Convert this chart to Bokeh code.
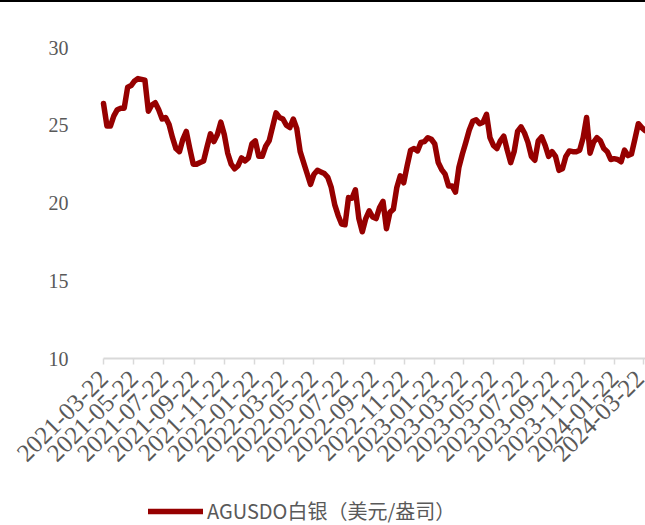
import pandas as pd
from math import pi
from bokeh.plotting import figure
from bokeh.models import FixedTicker, DatetimeTickFormatter, Range1d, Legend, LegendItem
from bokeh.embed import file_html
from bokeh.resources import INLINE

start_date = "2021-03-22"

silver = [
    26.4, 24.95, 24.95, 25.6, 26.0, 26.1, 26.1, 27.45, 27.55, 27.85,
    28.0, 27.95, 27.9, 25.9, 26.3, 26.45, 26.0, 25.4, 25.5, 25.05,
    24.2, 23.5, 23.3, 24.1, 24.6, 23.5, 22.5, 22.5, 22.6, 22.7,
    23.6, 24.45, 23.95, 24.4, 25.2, 24.4, 23.2, 22.5, 22.2, 22.4,
    22.9, 22.7, 22.9, 23.8, 24.0, 23.0, 23.0, 23.65, 24.0, 24.9,
    25.8, 25.5, 25.4, 25.0, 24.85, 25.4, 24.8, 23.3, 22.6, 21.9,
    21.2, 21.85, 22.1, 22.0, 21.9, 21.65, 21.0, 19.9, 19.2, 18.65,
    18.6, 20.35, 20.3, 20.85, 19.0, 18.15, 19.0, 19.5, 19.1, 19.0,
    19.7, 20.1, 18.35, 19.4, 19.6, 21.0, 21.75, 21.3, 22.4, 23.4,
    23.5, 23.35, 23.9, 23.95, 24.2, 24.1, 23.8, 22.6, 22.15, 21.85,
    21.1, 21.1, 20.7, 22.3, 23.15, 23.9, 24.7, 25.25, 25.35, 25.1,
    25.2, 25.7, 24.2, 23.7, 23.5, 24.0, 24.3, 23.4, 22.6, 23.3,
    24.6, 24.9, 24.5, 23.9, 23.0, 22.75, 24.0, 24.25, 23.7, 23.0,
    23.3, 23.0, 22.1, 22.2, 23.0, 23.35, 23.3, 23.3, 23.4, 24.2,
    25.5, 23.2, 23.9, 24.2, 24.0, 23.5, 23.3, 22.8, 22.85, 22.8,
    22.65, 23.4, 23.05, 23.15, 24.1, 25.1, 24.85, 24.65,
]

tick_dates = [
    "2021-03-22", "2021-05-22", "2021-07-22", "2021-09-22", "2021-11-22",
    "2022-01-22", "2022-03-22", "2022-05-22", "2022-07-22", "2022-09-22",
    "2022-11-22", "2023-01-22", "2023-03-22", "2023-05-22", "2023-07-22",
    "2023-09-22", "2023-11-22", "2024-01-22", "2024-03-22",
]
y_ticks = [10, 15, 20, 25, 30]
legend_label = "AGUSDO白银（美元/盎司）"

dates = pd.date_range(start_date, periods=len(silver), freq="7D")

DAY = 86400000.0


def ms(d):
    return pd.Timestamp(d).value / 1e6


x0 = ms(start_date)
x1 = x0 + 1099.5 * DAY
px_per_day = 542.0 / 1099.5
x_left = x0 - (103.0 / px_per_day) * DAY   # frame spans the full canvas width

# frame spans canvas y 20..523; value 10 sits at canvas y 356 (15.55 px per unit)
p = figure(
    width=645, height=523, x_axis_type="datetime",
    output_backend="svg", toolbar_location=None,
    x_range=Range1d(x_left, x1), y_range=Range1d(10 - 167 / 15.55, 31.608),
    min_border_left=0, min_border_right=0,
    min_border_top=20, min_border_bottom=0,
)
p.styles = {"border-top": "2px solid black"}
p.outline_line_color = None
p.xgrid.grid_line_color = None
p.ygrid.grid_line_color = None
p.background_fill_color = "white"
p.border_fill_color = "white"

r = p.line(dates, silver, line_width=5.5, line_color="#960000",
           line_join="round", line_cap="round")

# x axis, pinned at y = 10
xa = p.xaxis[0]
xa.fixed_location = 10
xa.bounds = (x0, x1)
xa.ticker = FixedTicker(ticks=[ms(d) for d in tick_dates])
fmt = "%Y-%m-%d"
xa.formatter = DatetimeTickFormatter(
    milliseconds=fmt, seconds=fmt, minsec=fmt, minutes=fmt, hourmin=fmt,
    hours=fmt, days=fmt, months=fmt, years=fmt,
)
xa.major_label_orientation = pi / 4
xa.axis_line_color = "#d9d9d9"
xa.axis_line_width = 2
xa.major_tick_line_color = "#d9d9d9"
xa.major_tick_line_width = 1.5
xa.major_tick_out = 6
xa.major_tick_in = 0
xa.minor_tick_line_color = None
xa.major_label_text_font = "Liberation Serif"
xa.major_label_text_font_size = "25px"
xa.major_label_text_color = "#595959"
xa.major_label_standoff = 10

# y axis, pinned at the first date
ya = p.yaxis[0]
ya.fixed_location = x0
ya.ticker = FixedTicker(ticks=y_ticks)
ya.axis_line_color = None
ya.major_tick_line_color = None
ya.minor_tick_line_color = None
ya.major_tick_out = 0
ya.major_tick_in = 0
ya.major_label_standoff = 35
ya.major_label_text_font = "Liberation Serif"
ya.major_label_text_font_size = "20px"
ya.major_label_text_color = "#595959"

legend = Legend(
    items=[LegendItem(label=legend_label, renderers=[r])],
    location=(148, 0),
    orientation="horizontal",
    background_fill_alpha=0, border_line_color=None,
    padding=0, margin=0, spacing=0,
    glyph_width=55, glyph_height=20, label_height=20,
    label_standoff=4,
    label_text_font="Noto Sans CJK SC",
    label_text_font_size="20px",
    label_text_color="#595959",
)
p.add_layout(legend, "center")

open("out.html", "w").write(file_html(p, INLINE))
